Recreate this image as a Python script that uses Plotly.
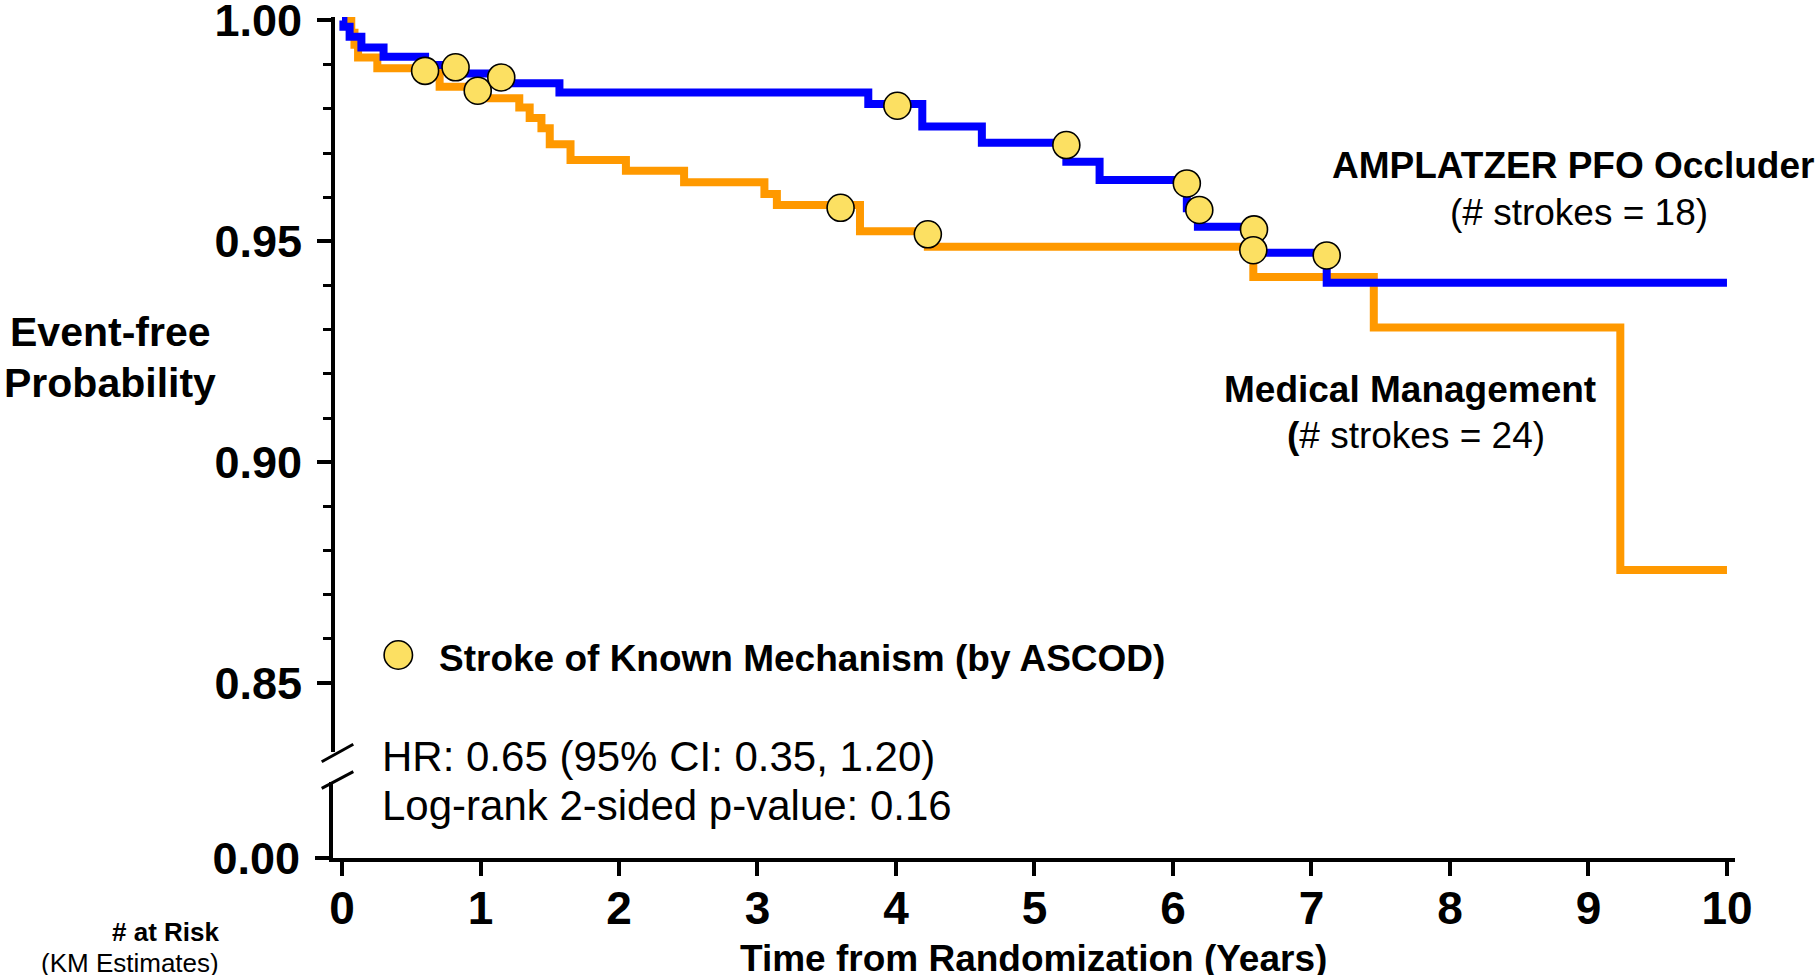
import plotly.graph_objects as go

# ---------------- data ----------------
# AMPLATZER PFO Occluder (blue) Kaplan-Meier steps
t_device = [0, 0.01, 0.055, 0.14, 0.30, 0.60, 0.83, 1.15, 1.57, 3.80, 4.19, 4.62,
            5.23, 5.47, 6.10, 6.18, 6.58, 7.11, 10.0]
s_device = [1.0, 0.9986, 0.9963, 0.9939, 0.9918, 0.9899, 0.9880, 0.9858, 0.9837, 0.9811,
            0.9760, 0.9723, 0.9680, 0.9639, 0.9575, 0.9533, 0.9474, 0.9406, 0.9406]

# Medical Management (orange) Kaplan-Meier steps
t_medical = [0, 0.067, 0.09, 0.116, 0.255, 0.705, 1.0, 1.28, 1.355, 1.44, 1.50, 1.65,
             2.05, 2.47, 3.05, 3.14, 3.74, 4.23, 6.58, 7.45, 9.23, 10.0]
s_medical = [1.0, 0.9972, 0.9945, 0.9916, 0.9892, 0.9850, 0.9824, 0.9803, 0.9779, 0.9756,
             0.9720, 0.9684, 0.9660, 0.9634, 0.9607, 0.9582, 0.9523, 0.9488, 0.9419,
             0.9305, 0.8756, 0.8756]

# Strokes of known mechanism (by ASCOD)
t_known = [0.60, 0.82, 0.98, 1.15, 3.60, 4.01, 4.23, 5.23, 6.10, 6.19, 6.585, 6.58, 7.11]
s_known = [0.9886, 0.9894, 0.9841, 0.9871, 0.9576, 0.9807, 0.9516, 0.9718, 0.9631,
           0.9571, 0.9527, 0.9480, 0.9468]

x_ticks = [0, 1, 2, 3, 4, 5, 6, 7, 8, 9, 10]
y_major = [0.85, 0.90, 0.95, 1.00]
y_minor = [0.86, 0.87, 0.88, 0.89, 0.91, 0.92, 0.93, 0.94, 0.96, 0.97, 0.98, 0.99]
y_low_ticks = [0.0]

# ---------------- layout geometry ----------------
W, H = 1820, 975
L, R, T, B = 333, 85, 17, 117
PW, PH = W - L - R, H - T - B


def px(xp):
    return (xp - L) / PW


def py(yp):
    return (H - B - yp) / PH


FONT = "Arial, Liberation Sans, sans-serif"
BLUE = "#0000FF"
ORANGE = "#FF9900"
YELLOW = "#FCE062"

fig = go.Figure()

fig.add_trace(go.Scatter(x=t_medical, y=s_medical, mode="lines",
                         line=dict(color=ORANGE, width=8, shape="hv"),
                         name="Medical Management", xaxis="x", yaxis="y"))
fig.add_trace(go.Scatter(x=t_device, y=s_device, mode="lines",
                         line=dict(color=BLUE, width=8, shape="hv"),
                         name="AMPLATZER PFO Occluder", xaxis="x", yaxis="y"))
fig.add_trace(go.Scatter(x=t_known, y=s_known, mode="markers",
                         marker=dict(size=27, color=YELLOW, line=dict(color="black", width=1.6)),
                         cliponaxis=False, name="Stroke of Known Mechanism (by ASCOD)",
                         xaxis="x", yaxis="y"))
# empty trace so that the lower (broken) axis segment is created
fig.add_trace(go.Scatter(x=[None], y=[None], mode="lines", xaxis="x", yaxis="y2",
                         hoverinfo="skip", showlegend=False))

axis_common = dict(showgrid=False, zeroline=False, showline=True, linecolor="black",
                   linewidth=4, ticks="outside", tickcolor="black",
                   ticklabeloverflow="allow", automargin=False)

fig.update_layout(
    width=W, height=H,
    margin=dict(l=L, r=R, t=T, b=B, pad=0, autoexpand=False),
    plot_bgcolor="white", paper_bgcolor="white",
    showlegend=False,
    font=dict(family=FONT, color="black"),
    xaxis=dict(**axis_common, domain=[0, 1], anchor="y2",
               range=[-0.065, 10.058], tickvals=x_ticks, ticklen=14, tickwidth=3.5,
               tickfont=dict(size=46, weight="bold", family=FONT, color="black"),
               ticklabelstandoff=-7),
    yaxis=dict(**axis_common, domain=[py(752), 1], anchor="free", position=0,
               range=[0.83439, 1.00079], tickvals=y_major, tickformat=".2f",
               ticklen=14, tickwidth=3.5,
               tickfont=dict(size=45, weight="bold", family=FONT, color="black"),
               ticklabelstandoff=6,
               minor=dict(tickmode="array", tickvals=y_minor, ticks="outside",
                          ticklen=8, tickwidth=3, tickcolor="black", showgrid=False)),
    yaxis2=dict(**axis_common, domain=[0, py(782)], anchor="x",
                range=[0, 0.02], tickvals=y_low_ticks, tickformat=".2f",
                ticklen=14, tickwidth=3.5,
                tickfont=dict(size=45, weight="bold", family=FONT, color="black"),
                ticklabelstandoff=6),
)

# axis break marks
for (x0, y0, x1, y1) in [(321.7, 761.7, 353.3, 744.3), (321.7, 788.3, 353.3, 771.7)]:
    fig.add_shape(type="line", xref="paper", yref="paper",
                  x0=px(x0), y0=py(y0), x1=px(x1), y1=py(y1),
                  line=dict(color="black", width=3))

# legend symbol
cx, cy, r = 398.3, 655, 14.2
fig.add_shape(type="circle", xref="paper", yref="paper",
              x0=px(cx - r), x1=px(cx + r), y0=py(cy + r), y1=py(cy - r),
              fillcolor=YELLOW, line=dict(color="black", width=1.6))


def ann(text, x, y, size, xanchor="left", bold=False):
    fig.add_annotation(text=text, xref="paper", yref="paper", x=px(x), y=py(y),
                       xanchor=xanchor, yanchor="middle", showarrow=False,
                       font=dict(size=size, family=FONT, color="black",
                                 weight="bold" if bold else "normal"))


ann("Stroke of Known Mechanism (by ASCOD)", 437, 658, 37, bold=True)
ann("AMPLATZER PFO Occluder", 1573, 166, 37, xanchor="center", bold=True)
ann("(# strokes = 18)", 1579, 212, 37, xanchor="center")
ann("Medical Management", 1410, 389, 37, xanchor="center", bold=True)
ann("<b>(</b># strokes = 24)", 1416, 435, 37, xanchor="center")
ann("HR: 0.65 (95% CI: 0.35, 1.20)", 380, 756, 42)
ann("Log-rank 2-sided p-value: 0.16", 380, 805, 42)
ann("Event-free", 110, 332, 41, xanchor="center", bold=True)
ann("Probability", 110, 383, 41, xanchor="center", bold=True)
ann("Time from Randomization (Years)", 1033, 958, 37, xanchor="center", bold=True)
ann("# at Risk", 221, 932, 26, xanchor="right", bold=True)
ann("(KM Estimates)", 221, 963, 26, xanchor="right")

fig.write_html("out.html")
